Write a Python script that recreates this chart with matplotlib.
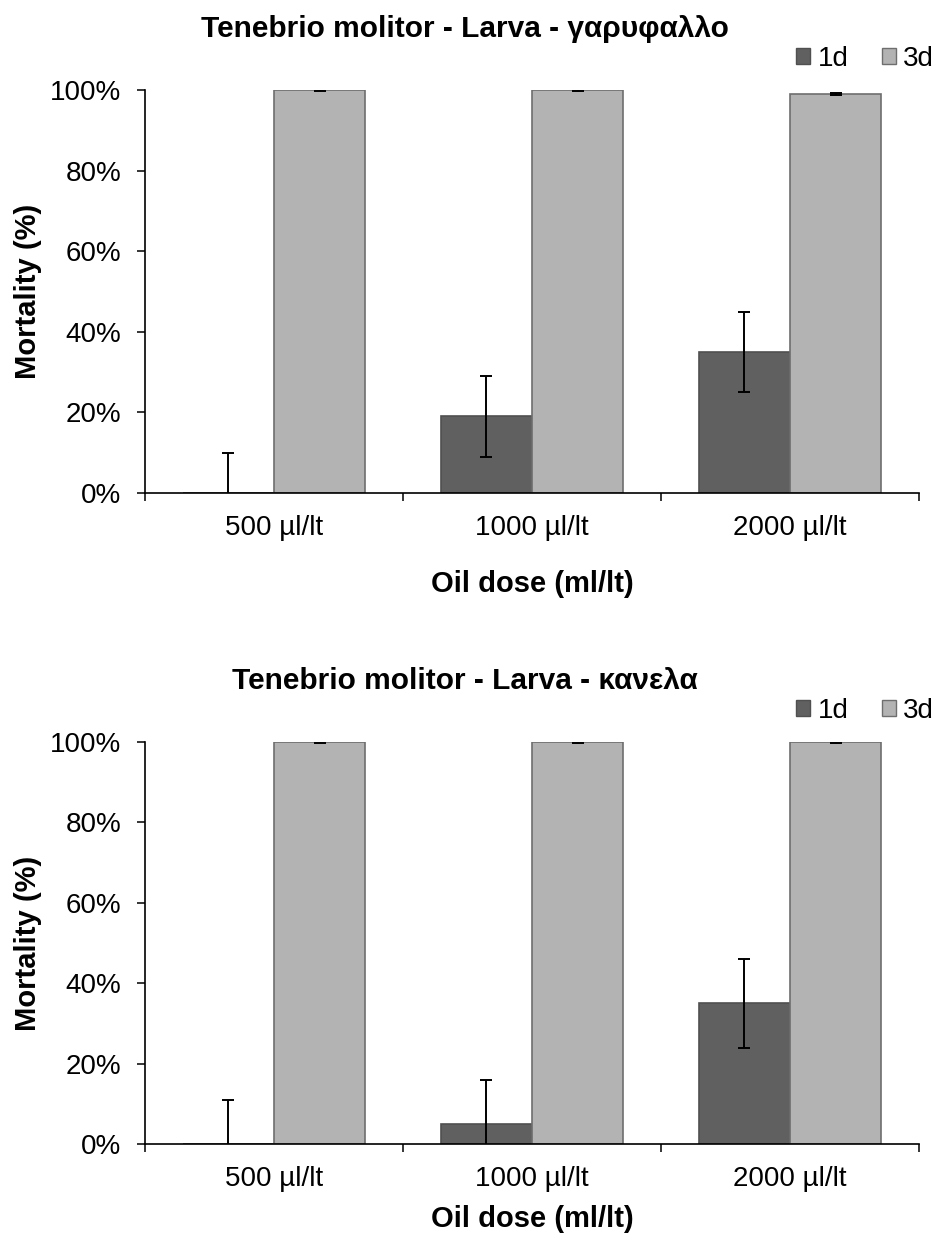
import numpy as np
import matplotlib
matplotlib.use('Agg')
import matplotlib.pyplot as plt
from matplotlib.patches import Patch
from matplotlib.ticker import PercentFormatter

plt.rcParams['font.family'] = ['Liberation Sans', 'DejaVu Sans']

# data (mortality, %)
doses = ['500 µl/lt', '1000 µl/lt', '2000 µl/lt']
series = ['1d', '3d']

clove_1d = [0, 19, 35]
clove_1d_err = [10, 10, 10]
clove_3d = [100, 100, 99]
clove_3d_err = [0.3, 0.3, 0.3]

cinnamon_1d = [0, 5, 35]
cinnamon_1d_err = [11, 11, 11]
cinnamon_3d = [100, 100, 100]
cinnamon_3d_err = [0.2, 0.2, 0.2]

titles = ['Tenebrio molitor - Larva - γαρυφαλλο',
          'Tenebrio molitor - Larva - κανελα']

col_1d = '#606060'
col_3d = '#b3b3b3'
edge_1d = '#505050'
edge_3d = '#6e6e6e'

W, H = 946, 1233
fig = plt.figure(figsize=(W / 100, H / 100), dpi=100)

# axes boxes in pixels: (left, right, top(y=100), bottom(y=0)) and xlabel offset
boxes = [(145, 919, 90, 493), (145, 919, 742, 1144)]
xlabel_y = [-0.19, -0.152]
panels = [(clove_1d, clove_1d_err, clove_3d, clove_3d_err),
          (cinnamon_1d, cinnamon_1d_err, cinnamon_3d, cinnamon_3d_err)]


def draw_panel(box, data, title, xly):
    l, r, t, b = box
    ax = fig.add_axes([l / W, 1 - b / H, (r - l) / W, (b - t) / H])
    v1, e1, v3, e3 = data
    x = np.arange(len(doses))
    w = 0.353
    ekw = dict(ecolor='black', elinewidth=1.4, capsize=4.4, capthick=1.4)
    ax.bar(x - w / 2, v1, w, color=col_1d, edgecolor=edge_1d, linewidth=1.2,
           yerr=e1, error_kw=ekw, zorder=2)
    ax.bar(x + w / 2, v3, w, color=col_3d, edgecolor=edge_3d, linewidth=1.2,
           yerr=e3, error_kw=ekw, zorder=2)

    ax.set_xlim(-0.5, len(doses) - 0.5)
    ax.set_ylim(0, 100)
    ax.set_yticks(np.arange(0, 101, 20))
    ax.yaxis.set_major_formatter(PercentFormatter(decimals=0))
    ax.set_xticks(x)
    ax.set_xticklabels(doses)
    ax.set_xticks(np.arange(-0.5, len(doses), 1), minor=True)
    ax.tick_params(axis='x', which='major', length=0, pad=16, labelsize=20)
    ax.tick_params(axis='x', which='minor', length=6, width=1.1, direction='out')
    ax.tick_params(axis='y', length=6, width=1.1, direction='out', pad=11, labelsize=20)

    for s in ['top', 'right']:
        ax.spines[s].set_visible(False)
    for s in ['left', 'bottom']:
        ax.spines[s].set_linewidth(1.2)

    ax.set_xlabel('Oil dose (ml/lt)', fontsize=21, fontweight='bold')
    ax.xaxis.set_label_coords(0.5, xly)
    ax.set_ylabel('Mortality (%)', fontsize=21, fontweight='bold')
    ax.yaxis.set_label_coords(-0.133, 0.5)

    fig.text(465 / W, 1 - (t - 53) / H, title, ha='center', va='baseline',
             fontsize=21.5, fontweight='bold')

    handles = [Patch(facecolor=col_1d, edgecolor=edge_1d),
               Patch(facecolor=col_3d, edgecolor=edge_3d)]
    fig.legend(handles, series, loc='center right', ncol=2, frameon=False,
               bbox_to_anchor=(945 / W, 1 - (t - 31) / H), fontsize=20,
               handlelength=0.52, handleheight=0.52, handletextpad=0.25,
               columnspacing=1.2, borderaxespad=0)
    return ax


for box, data, title, xly in zip(boxes, panels, titles, xlabel_y):
    draw_panel(box, data, title, xly)

fig.savefig('out.png', dpi=100)
